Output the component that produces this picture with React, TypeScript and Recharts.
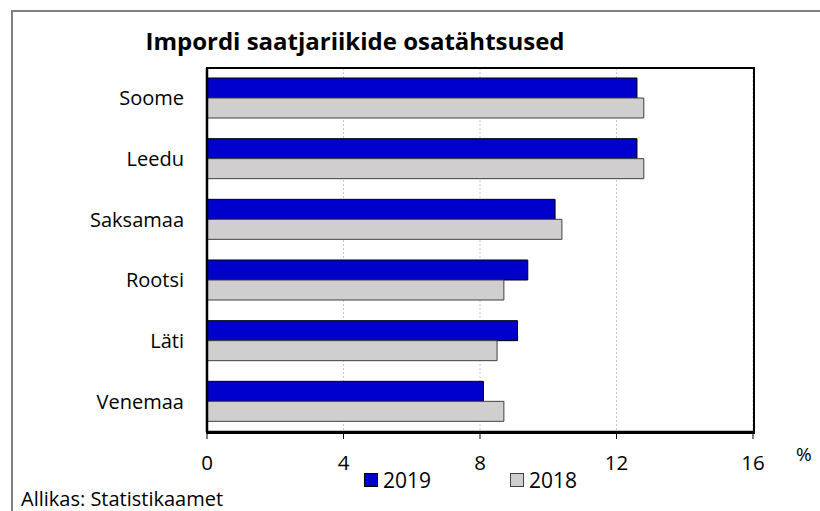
import React from "react";
import { BarChart, Bar, XAxis, YAxis, CartesianGrid } from "recharts";

const countries = ["Soome", "Leedu", "Saksamaa", "Rootsi", "Läti", "Venemaa"];
const values2019 = [12.6, 12.6, 10.2, 9.4, 9.1, 8.1];
const values2018 = [12.8, 12.8, 10.4, 8.7, 8.5, 8.7];
const xTicks = [0, 4, 8, 12, 16];
const seriesNames = ["2019", "2018"];
const title = "Impordi saatjariikide osatähtsused";
const source = "Allikas: Statistikaamet";
const unit = "%";

const data = countries.map((c, i) => ({
  name: c,
  v2019: values2019[i],
  v2018: values2018[i],
}));

const FONT = "'Open Sans', Lato, sans-serif";
const BLUE = "#0000CC";
const GREY = "#D0CECE";

const legendItems = [
  { label: seriesNames[0], fill: BLUE, stroke: "#000" },
  { label: seriesNames[1], fill: GREY, stroke: "#404040" },
];

export default function App() {
  return (
    <div
      style={{
        position: "absolute",
        left: 0,
        top: 0,
        width: 820,
        height: 511,
        overflow: "hidden",
        background: "#fff",
        fontFamily: FONT,
      }}
    >
      <div
        style={{
          position: "absolute",
          left: 11,
          top: 10,
          width: 830,
          height: 530,
          borderTop: "2px solid #7f7f7f",
          borderLeft: "2px solid #7f7f7f",
        }}
      />
      <BarChart
        width={820}
        height={511}
        data={data}
        layout="vertical"
        margin={{ top: 68, right: 67, bottom: 0, left: 0 }}
        barGap={0}
        barCategoryGap="33%"
        style={{ position: "absolute", left: 0, top: 0 }}
      >
        <CartesianGrid
          horizontal={false}
          vertical={true}
          stroke="#c8c8c8"
          strokeDasharray="2 2"
        />
        <XAxis
          type="number"
          domain={[0, 16]}
          ticks={xTicks}
          interval={0}
          axisLine={{ stroke: "#000", strokeWidth: 2.5 }}
          tickLine={{ stroke: "#000", strokeWidth: 1 }}
          tickSize={7}
          tickMargin={16}
          tick={{ fill: "#000", fontSize: 20.5, fontFamily: FONT }}
          height={79}
        />
        <YAxis
          type="category"
          dataKey="name"
          width={207}
          axisLine={{ stroke: "#000", strokeWidth: 2.5 }}
          tickLine={false}
          tickSize={6}
          tickMargin={17}
          tick={{ fill: "#000", fontSize: 20, fontFamily: FONT }}
        />
        <Bar
          dataKey="v2019"
          name={seriesNames[0]}
          fill={BLUE}
          stroke="#000"
          strokeWidth={1}
          barSize={20}
          isAnimationActive={false}
        />
        <Bar
          dataKey="v2018"
          name={seriesNames[1]}
          fill={GREY}
          stroke="#404040"
          strokeWidth={1}
          barSize={20}
          isAnimationActive={false}
        />
      </BarChart>
      <div
        style={{
          position: "absolute",
          left: 206,
          top: 67,
          width: 545,
          height: 363,
          border: "2.5px solid #000",
          pointerEvents: "none",
        }}
      />
      <div
        style={{
          position: "absolute",
          left: 0,
          width: 710,
          top: 24,
          textAlign: "center",
          fontWeight: 700,
          fontSize: 24,
          color: "#000",
          whiteSpace: "nowrap",
        }}
      >
        {title}
      </div>
      <div
        style={{
          position: "absolute",
          left: 364,
          top: 465,
          display: "flex",
          fontSize: 21,
          color: "#000",
          lineHeight: "30px",
        }}
      >
        {legendItems.map((it, i) => (
          <div key={i} style={{ display: "flex", alignItems: "center", marginRight: i === 0 ? 79 : 0 }}>
            <div
              style={{
                width: 12,
                height: 12,
                background: it.fill,
                border: `1px solid ${it.stroke}`,
                marginRight: 5,
              }}
            />
            <span>{it.label}</span>
          </div>
        ))}
      </div>
      <div style={{ position: "absolute", left: 796, top: 441, fontSize: 19, color: "#000" }}>
        {unit}
      </div>
      <div style={{ position: "absolute", left: 21, top: 485, fontSize: 20, color: "#000" }}>
        {source}
      </div>
    </div>
  );
}
